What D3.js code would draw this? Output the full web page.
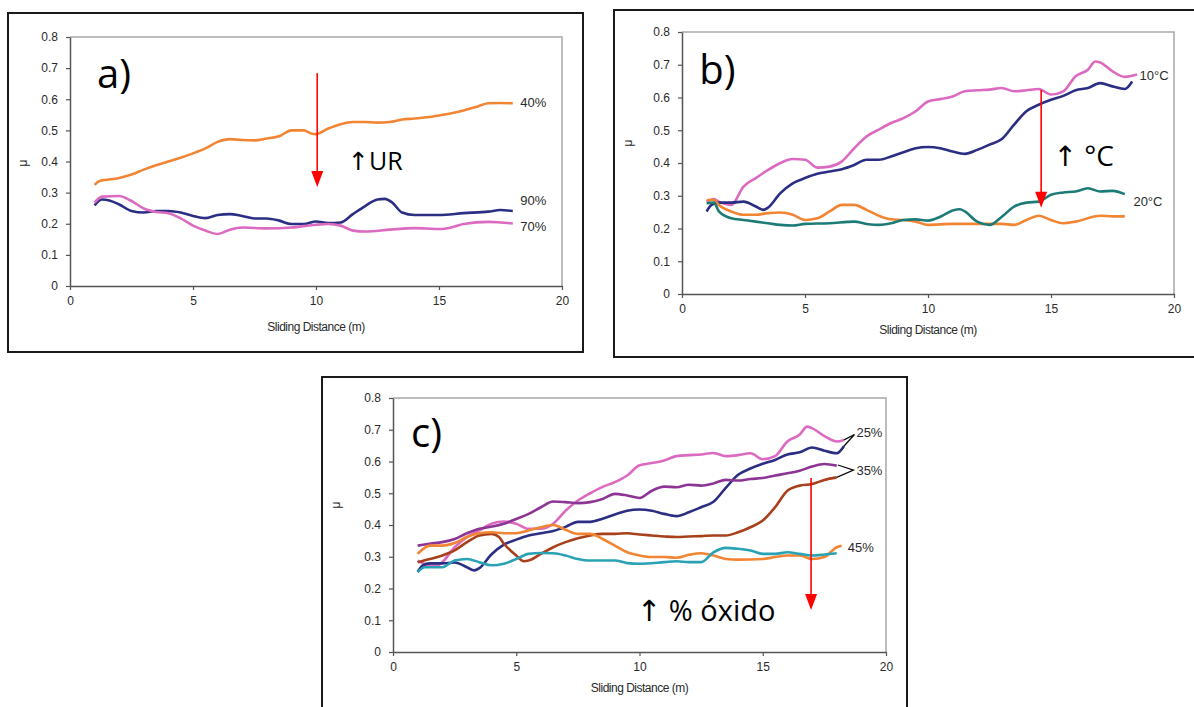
<!DOCTYPE html>
<html><head><meta charset="utf-8">
<script src="https://cdn.jsdelivr.net/npm/d3@7"></script>
<style>body{margin:0;background:#fff}</style>
</head><body>
<svg id="chart" width="1194" height="707" xmlns="http://www.w3.org/2000/svg"></svg>
<script>
// ---------- DATA ----------
const xTicks = [0, 5, 10, 15, 20];
const yTicks = [0, 0.1, 0.2, 0.3, 0.4, 0.5, 0.6, 0.7, 0.8];
const xTitle = "Sliding Distance (m)";
const yTitle = "\u03bc";

// Panel a) relative humidity
const a40 = [[1,0.325],[1.2,0.337],[2,0.347],[2.5,0.358],[3,0.374],[3.5,0.388],[4,0.40],[4.5,0.412],[5,0.426],[5.5,0.442],[6,0.463],[6.5,0.472],[7,0.469],[7.5,0.468],[8,0.474],[8.5,0.481],[9,0.50],[9.5,0.50],[9.8,0.49],[10,0.488],[10.5,0.506],[11,0.52],[11.5,0.527],[12,0.527],[12.5,0.525],[13,0.527],[13.5,0.535],[14,0.538],[14.5,0.542],[15,0.548],[15.5,0.555],[16,0.564],[16.5,0.575],[17,0.587],[17.5,0.588],[18,0.587]];
const a90 = [[1,0.259],[1.3,0.278],[1.6,0.275],[2,0.262],[2.5,0.241],[3,0.236],[3.5,0.241],[4,0.241],[4.5,0.236],[5,0.225],[5.5,0.218],[6,0.228],[6.5,0.231],[7,0.225],[7.5,0.217],[8,0.217],[8.5,0.21],[9,0.199],[9.5,0.199],[10,0.207],[10.5,0.202],[11,0.204],[11.5,0.231],[12,0.257],[12.5,0.278],[12.8,0.28],[13.1,0.268],[13.5,0.236],[14,0.228],[15,0.228],[16,0.234],[17,0.239],[17.5,0.244],[18,0.241]];
const a70 = [[1,0.268],[1.3,0.287],[2,0.289],[2.5,0.273],[3,0.249],[3.5,0.238],[4,0.234],[4.5,0.217],[5,0.194],[5.5,0.178],[6,0.167],[6.5,0.181],[7,0.188],[8,0.185],[9,0.188],[10,0.197],[10.5,0.199],[11,0.194],[11.5,0.178],[12,0.175],[13,0.181],[14,0.186],[15,0.183],[15.5,0.188],[16,0.199],[17,0.206],[17.5,0.204],[18,0.201]];

// Panel b) temperature
const b10pink = [[1,0.282],[1.3,0.29],[1.5,0.282],[2,0.272],[2.5,0.328],[3,0.354],[3.5,0.379],[4,0.40],[4.5,0.412],[5,0.41],[5.5,0.386],[6,0.389],[6.5,0.405],[7,0.445],[7.5,0.481],[8,0.502],[8.5,0.522],[9,0.537],[9.5,0.558],[10,0.588],[10.5,0.595],[11,0.603],[11.5,0.619],[12,0.622],[12.5,0.624],[13,0.629],[13.5,0.619],[14,0.622],[14.5,0.626],[15,0.609],[15.5,0.619],[16,0.665],[16.5,0.685],[16.8,0.71],[17,0.707],[17.5,0.68],[18,0.663],[18.5,0.67]];
const b10navy = [[1,0.252],[1.2,0.272],[1.5,0.279],[2,0.279],[2.5,0.282],[3,0.267],[3.3,0.257],[3.5,0.264],[4,0.308],[4.5,0.338],[5,0.354],[5.5,0.367],[6,0.374],[6.5,0.381],[7,0.394],[7.5,0.41],[8,0.41],[8.5,0.42],[9,0.433],[9.5,0.445],[10,0.449],[10.5,0.445],[11,0.435],[11.5,0.428],[12,0.44],[12.5,0.456],[13,0.473],[13.5,0.517],[14,0.558],[14.5,0.578],[15,0.593],[15.5,0.605],[16,0.622],[16.5,0.629],[17,0.644],[17.5,0.634],[18,0.626],[18.3,0.649]];
const b20teal = [[1,0.277],[1.3,0.279],[1.5,0.252],[2,0.231],[2.5,0.226],[3,0.221],[3.5,0.216],[4,0.211],[4.5,0.209],[5,0.214],[6,0.216],[7,0.221],[7.5,0.214],[8,0.211],[8.5,0.216],[9,0.226],[9.5,0.228],[10,0.224],[10.5,0.236],[11,0.255],[11.3,0.259],[11.5,0.252],[12,0.221],[12.5,0.211],[13,0.236],[13.5,0.267],[14,0.279],[14.5,0.282],[15,0.303],[15.5,0.31],[16,0.313],[16.5,0.323],[17,0.313],[17.5,0.315],[18,0.305]];
const b20orange = [[1,0.287],[1.3,0.287],[1.5,0.272],[2,0.252],[2.5,0.242],[3,0.242],[3.5,0.247],[4,0.249],[4.5,0.242],[5,0.226],[5.5,0.231],[6,0.252],[6.5,0.272],[7,0.272],[7.5,0.257],[8,0.239],[8.5,0.228],[9,0.226],[9.5,0.221],[10,0.211],[11,0.214],[12,0.214],[13,0.214],[13.5,0.211],[14,0.226],[14.5,0.239],[15,0.226],[15.5,0.216],[16,0.221],[17,0.239],[17.5,0.237],[18,0.237]];

// Panel c) oxide percentage
const c25pink = [[1,0.288],[1.5,0.273],[1.8,0.272],[2,0.283],[2.5,0.33],[3,0.362],[3.5,0.383],[4,0.404],[4.5,0.411],[5,0.404],[5.5,0.388],[6,0.388],[6.5,0.404],[7,0.445],[7.5,0.477],[8,0.5],[8.5,0.52],[9,0.535],[9.5,0.556],[10,0.588],[10.5,0.595],[11,0.603],[11.5,0.617],[12,0.62],[12.5,0.622],[13,0.627],[13.5,0.617],[14,0.62],[14.5,0.626],[15,0.607],[15.5,0.617],[16,0.663],[16.5,0.685],[16.8,0.71],[17,0.705],[17.5,0.68],[18,0.663],[18.3,0.668]];
const c25navy = b10navy;
const c35purple = [[1,0.335],[1.5,0.341],[2,0.346],[2.5,0.356],[3,0.374],[3.5,0.388],[4,0.395],[4.5,0.404],[5,0.419],[5.5,0.435],[6,0.456],[6.5,0.474],[7,0.472],[7.5,0.469],[8,0.472],[8.5,0.482],[9,0.498],[9.5,0.493],[10,0.485],[10.5,0.508],[11,0.521],[11.5,0.519],[12,0.527],[12.5,0.524],[13,0.531],[13.5,0.542],[14,0.54],[14.5,0.545],[15,0.548],[15.5,0.556],[16,0.563],[16.5,0.571],[17,0.584],[17.5,0.592],[18,0.587]];
const c35brown = [[1,0.283],[1.5,0.293],[2,0.304],[2.5,0.32],[3,0.346],[3.5,0.367],[4,0.372],[4.3,0.362],[4.5,0.341],[5,0.304],[5.3,0.286],[5.5,0.288],[6,0.309],[6.5,0.33],[7,0.346],[7.5,0.358],[8,0.367],[8.5,0.372],[9,0.372],[9.5,0.374],[10,0.37],[10.5,0.367],[11,0.364],[11.5,0.362],[12,0.364],[12.5,0.365],[13,0.367],[13.5,0.367],[14,0.377],[14.5,0.393],[15,0.414],[15.5,0.456],[16,0.508],[16.5,0.524],[17,0.529],[17.5,0.542],[18,0.55]];
const c45orange = [[1,0.309],[1.5,0.335],[2,0.335],[2.5,0.343],[3,0.362],[3.5,0.374],[4,0.377],[4.5,0.374],[5,0.374],[5.5,0.383],[6,0.393],[6.5,0.40],[7,0.385],[7.5,0.372],[8,0.372],[8.5,0.356],[9,0.335],[9.5,0.314],[10,0.304],[10.5,0.299],[11,0.299],[11.5,0.297],[12,0.306],[12.5,0.311],[13,0.304],[13.5,0.293],[14,0.291],[15,0.293],[15.5,0.299],[16,0.304],[16.5,0.304],[17,0.293],[17.5,0.299],[18,0.33],[18.2,0.335]];
const c45teal = [[1,0.252],[1.3,0.267],[2,0.267],[2.5,0.288],[3,0.293],[3.5,0.283],[4,0.273],[4.5,0.278],[5,0.293],[5.5,0.309],[6,0.312],[6.5,0.311],[7,0.304],[7.5,0.293],[8,0.288],[9,0.288],[9.5,0.28],[10,0.278],[11,0.283],[11.5,0.286],[12,0.283],[12.5,0.283],[13,0.314],[13.5,0.328],[14,0.325],[14.5,0.32],[15,0.309],[15.5,0.309],[16,0.314],[16.5,0.309],[17,0.304],[17.5,0.307],[18,0.311]];

// leader lines of panel c (data coordinates)
const c25leader = [[18.3,0.668],[18.72,0.685],[18.3,0.649]];
const c35leader = [[18.05,0.589],[18.68,0.573],[18.0,0.55]];

// ---------- STYLE ----------
const COL = {orange:"#f28534", navy:"#2b2e83", pink:"#dc6ac0", teal:"#1d7b77",
             purple:"#8c3595", brown:"#a8401c", cyan:"#2aa2b6"};
const numFont = "'Liberation Sans', Arial, sans-serif";
const bigFont = "'Open Sans', 'DejaVu Sans', sans-serif";

const panels = [
  { frame:[8,13,575,339], xr:[70,562], yr:[286,37],
    series:[{d:a40,c:COL.orange},{d:a90,c:COL.navy},{d:a70,c:COL.pink}],
    labels:[{t:"40%",x:18.3,y:0.59},{t:"90%",x:18.3,y:0.276},{t:"70%",x:18.3,y:0.19}],
    tag:{t:"a)",x:1.1,y:0.637}, note:{t:"\u2191UR",x:11.3,y:0.372,s:25},
    arrow:{x:10.05,y1:0.684,y2:0.318}, mu:[27,163], titleY:331 },
  { frame:[614,10,600,347], xr:[682,1174], yr:[294,32],
    series:[{d:b10pink,c:COL.pink},{d:b10navy,c:COL.navy},{d:b20orange,c:COL.orange},{d:b20teal,c:COL.teal}],
    labels:[{t:"10\u00b0C",x:18.6,y:0.666},{t:"20\u00b0C",x:18.35,y:0.284}],
    tag:{t:"b)",x:0.7,y:0.64}, note:{t:"\u2191 \u00b0C",x:15.1,y:0.39,s:28},
    arrow:{x:14.6,y1:0.623,y2:0.263}, mu:[632,143], titleY:334 },
  { frame:[322,377,585,340], xr:[393,886], yr:[652,398],
    series:[{d:c25pink,c:COL.pink},{d:c25navy,c:COL.navy},{d:c35purple,c:COL.purple},{d:c35brown,c:COL.brown},{d:c45orange,c:COL.orange},{d:c45teal,c:COL.cyan}],
    labels:[{t:"25%",x:18.8,y:0.69},{t:"35%",x:18.8,y:0.573},{t:"45%",x:18.45,y:0.328}],
    leaders:[c25leader,c35leader],
    tag:{t:"c)",x:0.73,y:0.646}, note:{t:"\u2191 % \u00f3xido",x:9.9,y:0.098,s:29},
    arrow:{x:16.96,y1:0.548,y2:0.132}, mu:[340,505], titleY:692 }
];

const svg = d3.select("#chart");
svg.append("rect").attr("width",1194).attr("height",707).attr("fill","#fff");

panels.forEach(p => {
  const g = svg.append("g");
  const [fx,fy,fw,fh] = p.frame;
  g.append("rect").attr("x",fx).attr("y",fy).attr("width",fw).attr("height",fh)
    .attr("fill","#fff").attr("stroke","#1a1a1a").attr("stroke-width",2);

  const x = d3.scaleLinear().domain([0,20]).range(p.xr);
  const y = d3.scaleLinear().domain([0,0.8]).range(p.yr);

  g.append("path")
    .attr("d",`M${p.xr[0]},${p.yr[1]}H${p.xr[1]}V${p.yr[0]}`)
    .attr("fill","none").attr("stroke","#a8a8a8").attr("stroke-width",1.5);

  const yAxis = d3.axisLeft(y).tickValues(yTicks).tickSize(4).tickSizeOuter(0).tickPadding(8)
    .tickFormat(d => d===0 ? "0" : d3.format(".1f")(d));
  const xAxis = d3.axisBottom(x).tickValues(xTicks).tickSize(4).tickSizeOuter(0).tickPadding(6);

  const ya = g.append("g").attr("transform",`translate(${p.xr[0]},0)`).call(yAxis);
  const xa = g.append("g").attr("transform",`translate(0,${p.yr[0]})`).call(xAxis);
  [ya,xa].forEach(a => {
    a.select(".domain").attr("stroke","#555").attr("stroke-width",1.5);
    a.selectAll(".tick line").attr("stroke","#555").attr("stroke-width",1.2);
    a.selectAll(".tick text").attr("fill","#2a2a2a").style("font-family",numFont).style("font-size","12px");
  });

  g.append("text").attr("x",(p.xr[0]+p.xr[1])/2).attr("y",p.titleY).attr("text-anchor","middle")
    .attr("fill","#2a2a2a").style("font-family",numFont).style("font-size","12px")
    .style("letter-spacing","-0.5px").text(xTitle);
  g.append("text").attr("transform",`translate(${p.mu[0]},${p.mu[1]}) rotate(-90)`)
    .attr("text-anchor","middle").attr("fill","#2a2a2a").style("font-family",numFont)
    .style("font-size","12px").text(yTitle);

  const line = d3.line().x(d=>x(d[0])).y(d=>y(d[1])).curve(d3.curveMonotoneX);
  p.series.forEach(s => {
    g.append("path").datum(s.d).attr("d",line).attr("fill","none")
      .attr("stroke",s.c).attr("stroke-width",2.6).attr("stroke-linejoin","round");
  });

  if (p.leaders) {
    const ll = d3.line().x(d=>x(d[0])).y(d=>y(d[1]));
    p.leaders.forEach(l => g.append("path").datum(l).attr("d",ll).attr("fill","none")
      .attr("stroke","#111").attr("stroke-width",1.3));
  }

  p.labels.forEach(l => g.append("text").attr("x",x(l.x)).attr("y",y(l.y)).attr("dy","0.35em")
    .attr("fill","#2a2a2a").style("font-family",numFont).style("font-size","13px").text(l.t));

  g.append("text").attr("x",x(p.tag.x)).attr("y",y(p.tag.y)).attr("fill","#000")
    .style("font-family",bigFont).style("font-size","40px").text(p.tag.t);
  g.append("text").attr("x",x(p.note.x)).attr("y",y(p.note.y)).attr("fill","#000")
    .style("font-family",bigFont).style("font-size",p.note.s+"px").text(p.note.t);

  const ax = x(p.arrow.x), ay1 = y(p.arrow.y1), ay2 = y(p.arrow.y2);
  g.append("line").attr("x1",ax).attr("x2",ax).attr("y1",ay1).attr("y2",ay2-14)
    .attr("stroke","#f00").attr("stroke-width",1.6);
  g.append("path").attr("d",`M${ax-6},${ay2-16}L${ax+6},${ay2-16}L${ax},${ay2}Z`).attr("fill","#f00");
});
</script>
</body></html>
